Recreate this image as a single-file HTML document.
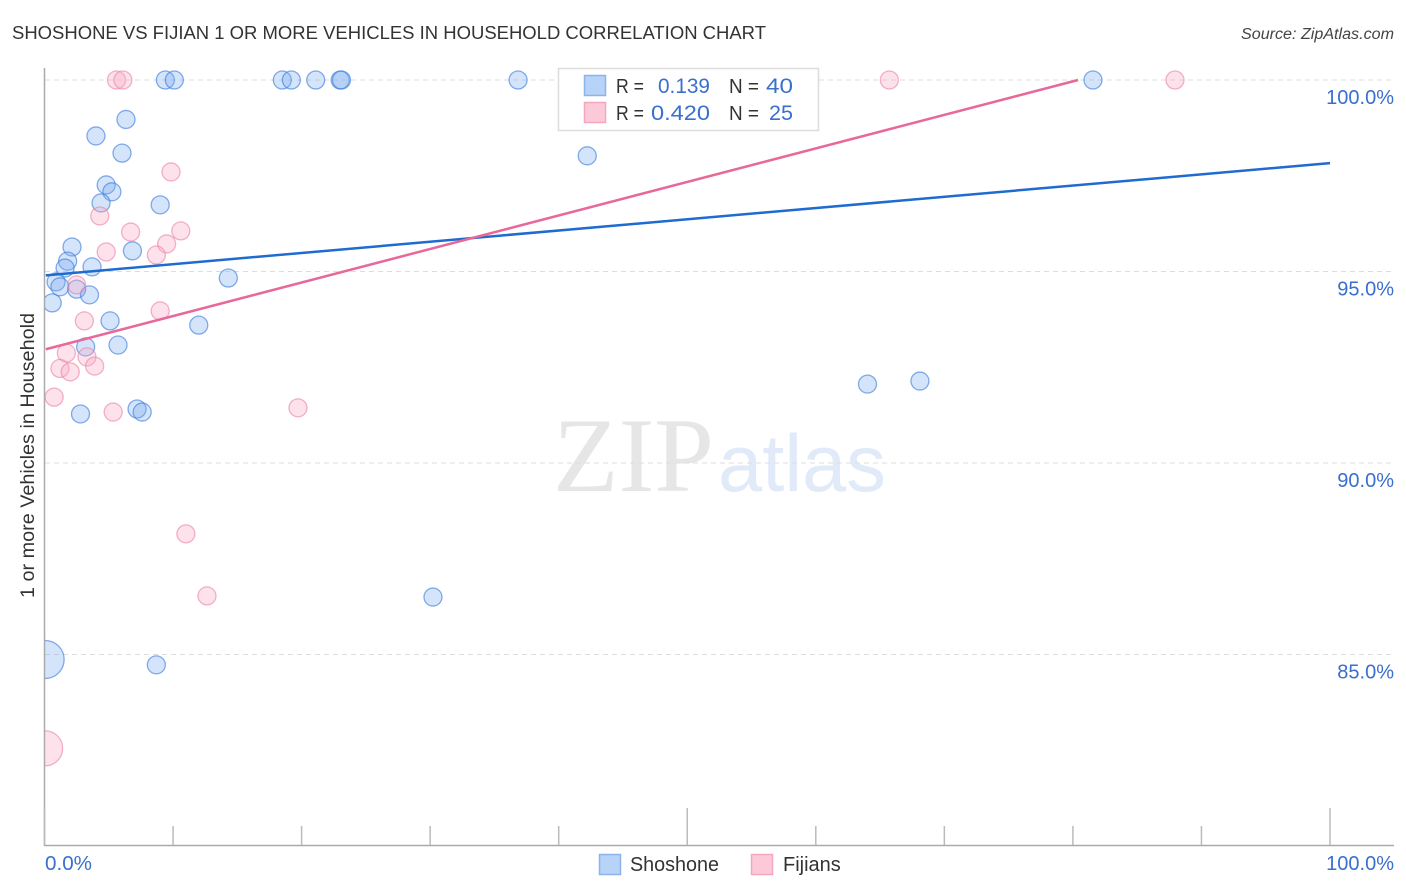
<!DOCTYPE html>
<html>
<head>
<meta charset="utf-8">
<style>
html,body{margin:0;padding:0;background:#fff;}
svg{display:block;font-family:"Liberation Sans",sans-serif;}
</style>
</head>
<body>
<svg id="chart" width="1406" height="892" viewBox="0 0 1406 892" xmlns="http://www.w3.org/2000/svg">
  <defs><clipPath id="plot-clip"><rect x="45" y="60" width="1350" height="785"/></clipPath></defs>
  <text x="12" y="39" font-size="18.5" fill="#333" textLength="754" lengthAdjust="spacingAndGlyphs">SHOSHONE VS FIJIAN 1 OR MORE VEHICLES IN HOUSEHOLD CORRELATION CHART</text>
  <text x="1241" y="39" font-size="15.5" font-style="italic" fill="#444" textLength="153" lengthAdjust="spacingAndGlyphs">Source: ZipAtlas.com</text>
  <g>
    <text x="553" y="491" font-family="'Liberation Serif',serif" font-size="106" fill="#e6e6e6" textLength="161" lengthAdjust="spacingAndGlyphs">ZIP</text>
    <text x="718" y="491" font-size="81" fill="#e1eaf8" textLength="168" lengthAdjust="spacingAndGlyphs">atlas</text>
  </g>
  <g id="grid"></g>
  <g id="axes"></g>
  <g id="points" clip-path="url(#plot-clip)"></g>
  <g id="lines"></g>
  <g>
    <rect x="558.5" y="68.5" width="260" height="62" fill="#fff" stroke="#dcdcdc" stroke-width="1.5"/>
    <rect x="584.5" y="75.5" width="21" height="20" fill="#b8d3f8" stroke="#8ab4ea" stroke-width="1.5"/>
    <rect x="584.5" y="102.5" width="21" height="20" fill="#fcc9d9" stroke="#f4a8c0" stroke-width="1.5"/>
    <text x="616" y="93" font-size="20" fill="#333" textLength="28" lengthAdjust="spacingAndGlyphs">R =</text>
    <text x="658" y="93" font-size="21" fill="#3a6fce" textLength="52" lengthAdjust="spacingAndGlyphs">0.139</text>
    <text x="729" y="93" font-size="20" fill="#333" textLength="30" lengthAdjust="spacingAndGlyphs">N =</text>
    <text x="766" y="93" font-size="21" fill="#3a6fce" textLength="27" lengthAdjust="spacingAndGlyphs">40</text>
    <text x="616" y="120" font-size="20" fill="#333" textLength="28" lengthAdjust="spacingAndGlyphs">R =</text>
    <text x="651" y="120" font-size="21" fill="#3a6fce" textLength="59" lengthAdjust="spacingAndGlyphs">0.420</text>
    <text x="729" y="120" font-size="20" fill="#333" textLength="30" lengthAdjust="spacingAndGlyphs">N =</text>
    <text x="769" y="120" font-size="21" fill="#3a6fce" textLength="24" lengthAdjust="spacingAndGlyphs">25</text>
  </g>
  <text transform="translate(34,455.5) rotate(-90)" font-size="19.5" fill="#333" text-anchor="middle" textLength="285" lengthAdjust="spacingAndGlyphs">1 or more Vehicles in Household</text>
  <g>
    <rect x="599.5" y="854.5" width="21" height="20" fill="#b8d3f8" stroke="#8ab4ea" stroke-width="1.5"/>
    <text x="630" y="871" font-size="20" fill="#333" textLength="89" lengthAdjust="spacingAndGlyphs">Shoshone</text>
    <rect x="751.5" y="854.5" width="21" height="20" fill="#fcc9d9" stroke="#f4a8c0" stroke-width="1.5"/>
    <text x="783" y="871" font-size="20" fill="#333">Fijians</text>
  </g>
</svg>
<script>
const shoshoneX = [9.4,10.1,18.5,19.2,21.1,23.0,23.1,36.84,81.56,6.34,4.0,6.03,42.22,4.8,5.24,4.4,9.0,2.14,6.84,1.8,1.6,3.7,14.3,0.9,1.2,2.5,3.5,0.6,5.1,12.0,5.72,3.2,64.02,68.1,7.2,7.6,2.8,30.22,8.7,0.05];
const shoshoneY = [100,100,100,100,100,100,100,100,100,98.97,98.54,98.09,98.02,97.26,97.08,96.79,96.74,95.64,95.54,95.27,95.09,95.12,94.83,94.73,94.6,94.54,94.39,94.18,93.71,93.6,93.08,93.03,92.06,92.14,91.41,91.33,91.28,86.5,84.73,84.87];
const shoshoneR = [9,9,9,9,9,9,9,9,9,9,9,9,9,9,9,9,9,9,9,9,9,9,9,9,9,9,9,9,9,9,9,9,9,9,9,9,9,9,9,19];
const fijianX = [5.6,6.1,65.72,87.94,9.84,4.3,10.6,6.7,9.5,4.8,8.7,2.5,9.0,3.1,1.7,3.3,3.9,1.2,2.0,0.75,5.34,19.72,11.0,12.64,0.05];
const fijianY = [100,100,100,100,97.6,96.45,96.06,96.03,95.72,95.51,95.43,94.65,93.97,93.71,92.87,92.77,92.53,92.47,92.38,91.72,91.33,91.44,88.15,86.53,82.55];
const fijianR = [9,9,9,9,9,9,9,9,9,9,9,9,9,9,9,9,9,9,9,9,9,9,9,9,17.5];
const shoshoneTrendX = [0.1,100];
const shoshoneTrendY = [94.9,97.83];
const fijianTrendX = [0.1,80.4];
const fijianTrendY = [92.97,100];
const yTicks = [100,95,90,85];
const yTickLabels = ["100.0%","95.0%","90.0%","85.0%"];
const xTicks = [0,10,20,30,40,50,60,70,80,90,100];
const xTickLabels = ["0.0%","100.0%"];

const NS = "http://www.w3.org/2000/svg";
const xScale = v => 44.5 + v * 12.855;
const yScale = v => 80 + (100 - v) * 38.3;
function make(tag, attrs, parent) {
  const el = document.createElementNS(NS, tag);
  for (const k in attrs) el.setAttribute(k, attrs[k]);
  parent.appendChild(el);
  return el;
}
const grid = document.getElementById("grid");
const axes = document.getElementById("axes");
const pointsG = document.getElementById("points");
const linesG = document.getElementById("lines");

yTicks.forEach((t, i) => {
  const line = make("line", {x1: 45, x2: 1394, y1: yScale(t), y2: yScale(t), stroke: "#dddddd", "stroke-width": 1, "stroke-dasharray": "5 4"}, grid);
  
  
  const label = make("text", {x: 1394, y: yScale(t) + 24, "font-size": 20, fill: "#3a6fce", "text-anchor": "end"}, axes);
  label.textContent = yTickLabels[i];
  
  
});

const yAxis = make("line", {x1: 44.5, x2: 44.5, y1: 68, y2: 846, stroke: "#aaaaaa", "stroke-width": 1.5}, axes);


const xAxis = make("line", {x1: 44, x2: 1394, y1: 845.5, y2: 845.5, stroke: "#aaaaaa", "stroke-width": 1.5}, axes);



xTicks.forEach(t => {
  const major = t === 0 || t === 50 || t === 100;
  const tick = make("line", {x1: xScale(t), x2: xScale(t), y1: major ? 808 : 826, y2: 845, stroke: "#bbbbbb", "stroke-width": 1.5}, axes);
  
  
});
const xLabelLeft = make("text", {x: 45, y: 870, "font-size": 20, fill: "#3a6fce", textLength: 47, lengthAdjust: "spacingAndGlyphs"}, axes);
xLabelLeft.textContent = xTickLabels[0];


const xLabelRight = make("text", {x: 1394, y: 870, "font-size": 20, fill: "#3a6fce", "text-anchor": "end"}, axes);
xLabelRight.textContent = xTickLabels[1];



shoshoneX.forEach((v, i) => {
  const c = make("circle", {cx: xScale(v), cy: yScale(shoshoneY[i]), r: shoshoneR[i], fill: "rgba(120,170,240,0.32)", stroke: "rgba(60,125,220,0.62)", "stroke-width": 1.3}, pointsG);
  
  
});
fijianX.forEach((v, i) => {
  const c = make("circle", {cx: xScale(v), cy: yScale(fijianY[i]), r: fijianR[i], fill: "rgba(250,170,195,0.34)", stroke: "rgba(238,130,165,0.62)", "stroke-width": 1.3}, pointsG);
  
  
});

const blueLine = make("line", {x1: xScale(shoshoneTrendX[0]), y1: yScale(shoshoneTrendY[0]), x2: xScale(shoshoneTrendX[1]), y2: yScale(shoshoneTrendY[1]), stroke: "#1f6bd0", "stroke-width": 2.5}, linesG);


const pinkLine = make("line", {x1: xScale(fijianTrendX[0]), y1: yScale(fijianTrendY[0]), x2: xScale(fijianTrendX[1]), y2: yScale(fijianTrendY[1]), stroke: "#e8689a", "stroke-width": 2.5}, linesG);


</script>
</body>
</html>
